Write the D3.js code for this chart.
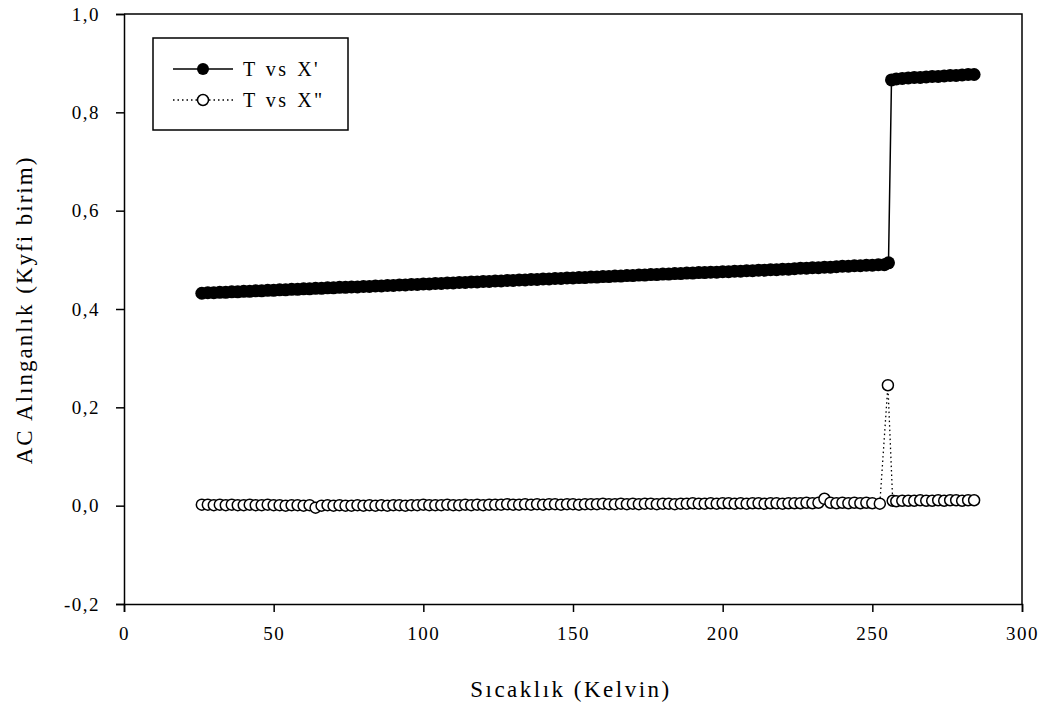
<!DOCTYPE html>
<html>
<head>
<meta charset="utf-8">
<script src="https://cdn.jsdelivr.net/npm/d3@7"></script>
<style>
  body { margin: 0; background: #fff; }
  svg { display: block; font-family: "Liberation Serif", "DejaVu Serif", serif; }
</style>
</head>
<body>
<div id="chart"></div>
<script>
// temperatures (K) below the transition, shared by both series
const tempsBase = [
  26, 28, 30, 32, 34, 36, 38, 40, 42, 44,
  46, 48, 50, 52, 54, 56, 58, 60, 62, 64,
  66, 68, 70, 72, 74, 76, 78, 80, 82, 84,
  86, 88, 90, 92, 94, 96, 98, 100, 102, 104,
  106, 108, 110, 112, 114, 116, 118, 120, 122, 124,
  126, 128, 130, 132, 134, 136, 138, 140, 142, 144,
  146, 148, 150, 152, 154, 156, 158, 160, 162, 164,
  166, 168, 170, 172, 174, 176, 178, 180, 182, 184,
  186, 188, 190, 192, 194, 196, 198, 200, 202, 204,
  206, 208, 210, 212, 214, 216, 218, 220, 222, 224,
  226, 228, 230, 232, 234, 236, 238, 240, 242, 244,
  246, 248, 250
];
// temperatures around / above the transition
const realTailT = [252, 254, 255.4, 256.4, 258, 260, 262, 264, 266, 268, 270, 272, 274, 276, 278, 280, 282, 284];
const imagTailT = [252.5, 255.2, 256.8, 258, 260, 262, 264, 266, 268, 270, 272, 274, 276, 278, 280, 282, 284];

// X' (real part)
const realPart = [
  .432, .433, .433, .434, .434, .435, .435, .436, .436, .437,
  .437, .438, .438, .439, .439, .440, .440, .441, .441, .442,
  .442, .443, .443, .444, .444, .445, .445, .446, .446, .447,
  .447, .448, .448, .449, .449, .450, .450, .451, .451, .452,
  .452, .453, .453, .454, .454, .455, .455, .456, .456, .457,
  .457, .458, .458, .459, .459, .460, .460, .461, .461, .462,
  .462, .463, .463, .464, .464, .465, .465, .466, .466, .467,
  .467, .468, .468, .469, .469, .470, .470, .471, .471, .472,
  .472, .473, .473, .474, .474, .475, .475, .476, .476, .477,
  .477, .478, .478, .479, .479, .480, .480, .481, .481, .482,
  .483, .483, .484, .484, .485, .485, .486, .487, .487, .488,
  .488, .489, .489,
  .490, .490, .494, .866, .868, .869, .870, .871, .871, .872, .873, .873, .874, .875, .875, .876, .877, .877
];

// X'' (imaginary part)
const imagPart = [
  .002, .002, .001, .002, .001, .002, .001, .001, .002, .001,
  .001, .002, .001, .001, .000, .001, .001, .000, .001, -.004,
  .000, .001, .000, .001, .000, .000, .001, .000, .001, .000,
  .001, .000, .001, .001, .000, .001, .001, .002, .001, .001,
  .001, .002, .001, .001, .002, .001, .002, .001, .002, .002,
  .002, .003, .002, .002, .003, .002, .003, .002, .003, .003,
  .002, .003, .003, .002, .003, .003, .003, .004, .003, .003,
  .004, .003, .004, .003, .004, .004, .003, .004, .004, .003,
  .004, .004, .005, .004, .004, .005, .004, .005, .005, .004,
  .005, .004, .005, .005, .004, .005, .005, .004, .005, .005,
  .005, .006, .005, .006, .014, .006, .005, .006, .005, .006,
  .005, .006, .005,
  .004, .245, .010, .009, .010, .010, .010, .011, .010, .010, .011, .010, .011, .011, .010, .011, .011
];

const xTicks = [0, 50, 100, 150, 200, 250, 300];
const yTicks = [-0.2, 0.0, 0.2, 0.4, 0.6, 0.8, 1.0];
const seriesNames = ["T vs X'", "T vs X\""];

const margin = { top: 14, right: 26, bottom: 107, left: 124 };
const width = 1048 - margin.left - margin.right;
const height = 711 - margin.top - margin.bottom;

const svg = d3.select("#chart")
  .append("svg")
  .attr("width", 1048)
  .attr("height", 711);

const g = svg.append("g")
  .attr("transform", `translate(${margin.left},${margin.top})`);

const x = d3.scaleLinear().domain([0, 300]).range([0, width]);
const y = d3.scaleLinear().domain([-0.2, 1.0]).range([height, 0]);

const fmt = v => d3.format(".1f")(v).replace(".", ",").replace("−", "-");

// frame (top + right)
g.append("path")
  .attr("d", `M0,0H${width}V${height}`)
  .attr("fill", "none")
  .attr("stroke", "#000")
  .attr("stroke-width", 1.5);

// axes
const xAxis = g.append("g")
  .attr("transform", `translate(0,${height})`)
  .call(d3.axisBottom(x).tickValues(xTicks).tickSize(8).tickPadding(14).tickFormat(d3.format("d")));

const yAxis = g.append("g")
  .call(d3.axisLeft(y).tickValues(yTicks).tickSize(8).tickPadding(16).tickFormat(fmt));

[xAxis, yAxis].forEach(ax => {
  ax.select(".domain").attr("stroke-width", 1.5);
  ax.selectAll(".tick line").attr("stroke-width", 1.5);
  ax.selectAll("text")
    .attr("font-family", "Liberation Serif")
    .attr("font-size", 19)
    .attr("letter-spacing", 1.5)
    .attr("fill", "#000");
});
xAxis.selectAll("text").attr("dy", "0.75em");

// axis titles
svg.append("text")
  .attr("x", 571)
  .attr("y", 697)
  .attr("text-anchor", "middle")
  .attr("font-size", 23)
  .attr("letter-spacing", 2.5)
  .text("Sıcaklık (Kelvin)");

svg.append("text")
  .attr("transform", "translate(32,310) rotate(-90)")
  .attr("text-anchor", "middle")
  .attr("font-size", 23)
  .attr("letter-spacing", 2)
  .attr("word-spacing", 1)
  .text("AC Alınganlık (Kyfi birim)");

const real = tempsBase.concat(realTailT).map((t, i) => ({ t, v: realPart[i] }));
const imag = tempsBase.concat(imagTailT).map((t, i) => ({ t, v: imagPart[i] }));

const line = d3.line().x(d => x(d.t)).y(d => y(d.v));

// X'' : dotted line, open circles
g.append("path")
  .datum(imag)
  .attr("d", line)
  .attr("fill", "none")
  .attr("stroke", "#000")
  .attr("stroke-width", 1.3)
  .attr("stroke-dasharray", "1.5,3");

g.selectAll("circle.imag")
  .data(imag)
  .enter()
  .append("circle")
  .attr("class", "imag")
  .attr("cx", d => x(d.t))
  .attr("cy", d => y(d.v))
  .attr("r", 5.5)
  .attr("fill", "#fff")
  .attr("stroke", "#000")
  .attr("stroke-width", 1.5);

// X' : solid line, filled circles
g.append("path")
  .datum(real)
  .attr("d", line)
  .attr("fill", "none")
  .attr("stroke", "#000")
  .attr("stroke-width", 1.5);

g.selectAll("circle.real")
  .data(real)
  .enter()
  .append("circle")
  .attr("class", "real")
  .attr("cx", d => x(d.t))
  .attr("cy", d => y(d.v))
  .attr("r", 6.5)
  .attr("fill", "#000");

// legend
const legend = svg.append("g").attr("transform", "translate(153,38)");
legend.append("rect")
  .attr("width", 195)
  .attr("height", 92)
  .attr("fill", "#fff")
  .attr("stroke", "#000")
  .attr("stroke-width", 1.5);

seriesNames.forEach((name, i) => {
  const ly = 31 + i * 31;
  legend.append("line")
    .attr("x1", 20).attr("x2", 80)
    .attr("y1", ly).attr("y2", ly)
    .attr("stroke", "#000")
    .attr("stroke-width", i === 0 ? 1.5 : 1.3)
    .attr("stroke-dasharray", i === 0 ? null : "1.5,3");
  legend.append("circle")
    .attr("cx", 50).attr("cy", ly)
    .attr("r", i === 0 ? 6 : 5.5)
    .attr("fill", i === 0 ? "#000" : "#fff")
    .attr("stroke", "#000")
    .attr("stroke-width", i === 0 ? 0 : 1.5);
  legend.append("text")
    .attr("x", 90)
    .attr("y", ly + 7)
    .attr("font-size", 20)
    .attr("letter-spacing", 2.5)
    .attr("word-spacing", 1)
    .text(name);
});
</script>
</body>
</html>
